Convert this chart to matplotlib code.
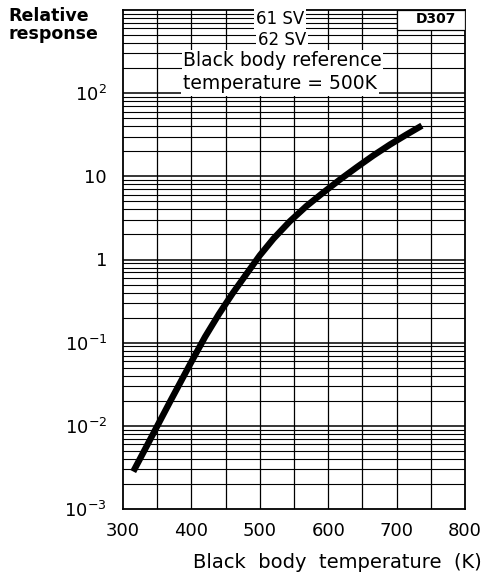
import matplotlib
matplotlib.use("Agg")
import matplotlib.pyplot as plt
from matplotlib.ticker import FixedLocator, NullFormatter
from matplotlib.patches import Rectangle

# data
temp_K = [315, 340, 370, 400, 420, 440, 460, 480, 500, 520, 544, 568, 592, 617, 642, 666, 690, 714, 737]
response = [0.00282, 0.00692, 0.0204, 0.0589, 0.1175, 0.219, 0.389, 0.661, 1.12, 1.78,
            2.88, 4.37, 6.31, 9.12, 12.9, 17.8, 24.0, 31.6, 40.7]
x_ticks = [300, 400, 500, 600, 700, 800]
y_ticks = [1e-3, 1e-2, 1e-1, 1, 10, 100]
y_tick_labels = [r"10$^{-3}$", r"10$^{-2}$", r"10$^{-1}$", "1", "10", r"10$^{2}$"]

fig = plt.figure(figsize=(4.91, 5.77), dpi=100)
ax = fig.add_axes([123/491, 1-509/577, (465-123)/491, (509-10)/577])
ax.set_xlim(300, 800)
ax.set_yscale("log")
ax.set_ylim(1e-3, 1e3)

# grid: vertical every 50 K, horizontal at 1..9 x decade
for t in range(350, 800, 50):
    ax.axvline(t, color="black", lw=0.9, zorder=1)
for e in range(-3, 3):
    for m in range(1, 10):
        v = m * 10.0**e
        if v <= 1e-3:
            continue
        ax.axhline(v, color="black", lw=1.1 if m == 1 else 0.8, zorder=1)

ax.plot(temp_K, response, color="black", lw=4.6, solid_capstyle="butt", zorder=3)

ax.xaxis.set_major_locator(FixedLocator(x_ticks))
ax.set_xticklabels([str(t) for t in x_ticks], fontsize=13)
ax.yaxis.set_major_locator(FixedLocator(y_ticks))
ax.set_yticklabels(y_tick_labels, fontsize=13)
ax.yaxis.set_minor_formatter(NullFormatter())
ax.tick_params(axis="both", which="both", length=0)
ax.tick_params(axis="x", pad=9)
ax.tick_params(axis="y", pad=11.5)
for s in ax.spines.values():
    s.set_linewidth(1.3)

box = dict(facecolor="white", edgecolor="none", pad=1.5)
ax.text(530, 7.8e2, "61 SV", fontsize=12, ha="center", va="center", bbox=box, zorder=5)
ax.text(533, 4.3e2, "62 SV", fontsize=12, ha="center", va="center", bbox=box, zorder=6)
ax.text(388, 2.44e2, "Black body reference", fontsize=13.5, ha="left", va="center",
        bbox=dict(facecolor="white", edgecolor="none", pad=1), zorder=5)
ax.text(388, 1.29e2, "temperature = 500K", fontsize=13.5, ha="left", va="center",
        bbox=dict(facecolor="white", edgecolor="none", pad=1.5), zorder=5)
ax.add_patch(Rectangle((700, 5.8e2), 100, 1e3 - 5.8e2, facecolor="white",
                       edgecolor="black", lw=0.9, zorder=4))
ax.text(757, 7.9e2, "D307", fontsize=10, fontweight="bold", ha="center", va="center", zorder=5)

fig.text(8/491, 1-25/577, "Relative\nresponse", fontsize=12.5, fontweight="bold",
         ha="left", va="center", linespacing=1.05)
fig.text(337/491, 1-563/577, "Black  body  temperature  (K)", fontsize=14,
         ha="center", va="center")

fig.savefig("out.png", dpi=100)
